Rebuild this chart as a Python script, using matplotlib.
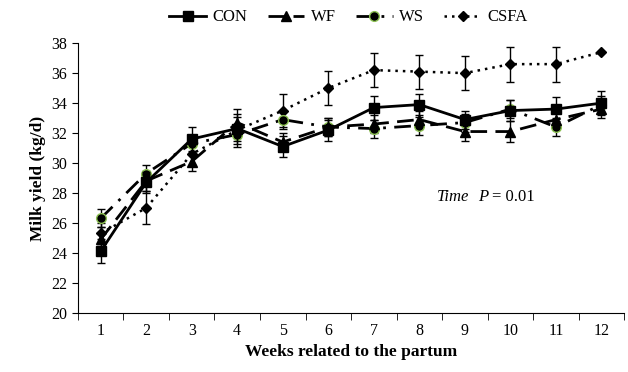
import numpy as np
import matplotlib
matplotlib.use('Agg')
import matplotlib.pyplot as plt
from matplotlib.lines import Line2D

plt.rcParams['font.family'] = ['Liberation Serif', 'DejaVu Serif']

weeks = np.arange(1, 13)
con = [24.1, 28.7, 31.6, 32.3, 31.1, 32.2, 33.7, 33.9, 32.9, 33.5, 33.6, 34.0]
con_se = [0.8, 0.7, 0.8, 0.8, 0.7, 0.7, 0.8, 0.7, 0.6, 0.7, 0.8, 0.8]
wf = [24.9, 28.8, 30.1, 32.7, 31.4, 32.4, 32.6, 32.9, 32.1, 32.1, 32.9, 33.6]
wf_se = [0.8, 0.7, 0.6, 0.9, 0.6, 0.6, 0.6, 0.6, 0.6, 0.7, 0.6, 0.6]
ws = [26.3, 29.3, 31.3, 31.9, 32.9, 32.4, 32.3, 32.5, 32.7, 33.6, 32.4, 33.9]
ws_se = [0.6, 0.6, 0.6, 0.6, 0.6, 0.6, 0.6, 0.6, 0.6, 0.6, 0.6, 0.6]
csfa = [25.3, 27.0, 30.6, 32.2, 33.5, 35.0, 36.2, 36.1, 36.0, 36.6, 36.6, 37.4]
csfa_se = [0.7, 1.1, 0.7, 1.1, 1.1, 1.15, 1.15, 1.13, 1.15, 1.17, 1.17, 0.0]

fig = plt.figure(figsize=(6.28, 3.72), dpi=100)
ax = fig.add_axes([0.124, 0.159, 0.870, 0.725])

styles = {
    'CSFA': dict(ls=(0, (1, 2)), lw=1.8, marker='D', ms=5, mfc='black', mec='black', mew=1),
    'WS': dict(ls=(0, (6, 3, 1, 3)), lw=2, marker='o', ms=7, mfc='black', mec='#8cc152', mew=1),
    'WF': dict(ls=(0, (6, 3)), lw=2, marker='^', ms=7, mfc='black', mec='black', mew=1),
    'CON': dict(ls='-', lw=2, marker='s', ms=7, mfc='black', mec='black', mew=1),
}
series = [('CSFA', csfa, csfa_se, 2), ('WS', ws, ws_se, 3), ('WF', wf, wf_se, 3), ('CON', con, con_se, 4)]

for name, y, se, z in series:
    ax.errorbar(weeks, y, yerr=se, color='black', ecolor='black', elinewidth=1,
                capsize=3, capthick=1, zorder=z, **styles[name])

ax.set_xlim(0.5, 12.5)
ax.set_ylim(20, 38)
ax.set_yticks(np.arange(20, 39, 2))
ax.set_xticks(weeks)
ax.set_xticks(np.arange(0.5, 13, 1), minor=True)
ax.tick_params(axis='x', which='major', length=0, labelsize=11.5, pad=7)
ax.tick_params(axis='x', which='minor', length=5, direction='out')
ax.tick_params(axis='y', length=4, direction='out', labelsize=11.5)
for s in ['top', 'right']:
    ax.spines[s].set_visible(False)

ax.set_xlabel('Weeks related to the partum', fontsize=12.5, fontweight='bold')
ax.set_ylabel('Milk yield (kg/d)', fontsize=12.5, fontweight='bold')

ax.text(8.38, 27.7, 'Time', fontstyle='italic', fontsize=12, va='center')
ax.text(9.3, 27.7, 'P', fontstyle='italic', fontsize=12, va='center')
ax.text(9.6, 27.7, '= 0.01', fontsize=12, va='center')

names = ['CON', 'WF', 'WS', 'CSFA']
handles = [Line2D([], [], color='black', **styles[n]) for n in names]
fig.legend(handles, names, loc='upper center', bbox_to_anchor=(0.555, 1.015), ncol=4,
           frameon=False, fontsize=12, handlelength=2.2, columnspacing=1.2, handletextpad=0.4)

fig.savefig('out.png', dpi=100)
